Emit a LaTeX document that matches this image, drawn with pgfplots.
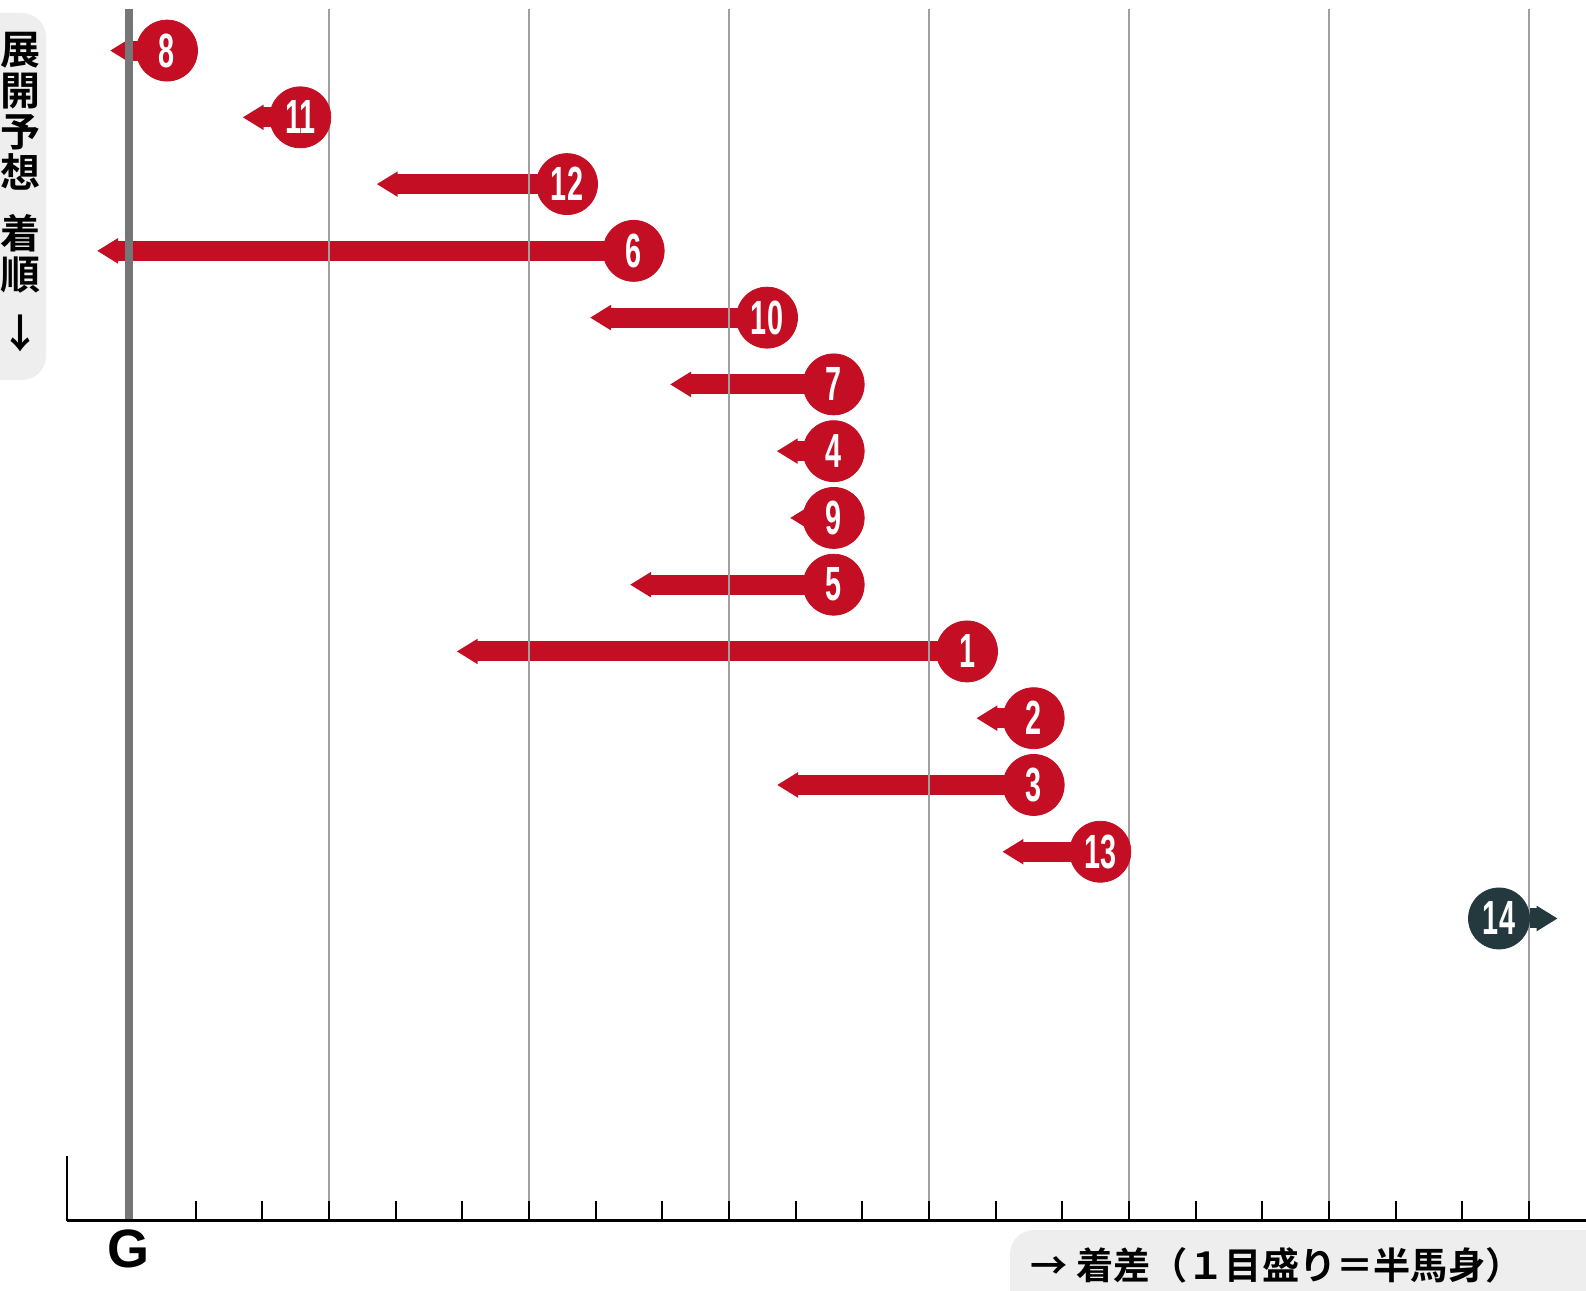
\documentclass[border=0pt]{standalone}
\usepackage{pgfplots}
\pgfplotsset{compat=1.18}
\usepackage{pgfplotstable}
\usetikzlibrary{arrows.meta}
\usepackage{fontspec}
\setmainfont{Liberation Sans}
\newfontfamily\numfont[FakeStretch=0.6]{Liberation Sans Bold}
\newfontfamily\jp{Noto Sans CJK JP Bold}
\definecolor{hred}{RGB}{196,14,36}
\definecolor{hdark}{RGB}{35,57,61}
\definecolor{gline}{RGB}{118,118,118}
\definecolor{gridc}{RGB}{160,160,160}
\definecolor{boxgray}{RGB}{238,238,238}

\pgfplotstableread{
row cx label
1 0.57 8
2 2.57 11
3 6.57 12
4 7.57 6
5 9.57 10
6 10.57 7
7 10.57 4
8 10.57 9
9 10.57 5
10 12.57 1
11 13.57 2
12 13.57 3
13 14.57 13
}\redhorses
\pgfplotstableread{
row cx label
14 20.55 14
}\darkhorse

\begin{document}
\begin{tikzpicture}
\begin{axis}[
  width=793pt, height=645.5pt, scale only axis,
  xmin=-1.935, xmax=21.855, ymin=0.2424, ymax=19.58, y dir=reverse,
  hide axis, clip=false,
  arr/.style={line width=10pt, -{Triangle[length=10.5pt,width=12pt]}},
  numlab/.style={only marks, mark=*, mark size=15.25pt,
    point meta=explicit symbolic, nodes near coords,
    nodes near coords align={center},
    every node near coord/.style={text=white, inner sep=0pt, anchor=center,
      font=\numfont\fontsize{24}{24}\selectfont}},
]
% arrows (start at the circle, tip at the arrow end)
\addplot[hred, arr] coordinates {(0.57,1) (-0.285,1)};
\addplot[hred, arr] coordinates {(2.57,2) (1.705,2)};
\addplot[hred, arr] coordinates {(6.57,3) (3.715,3)};
\addplot[hred, arr] coordinates {(7.57,4) (-0.48,4)};
\addplot[hred, arr] coordinates {(9.57,5) (6.915,5)};
\addplot[hred, arr] coordinates {(10.57,6) (8.115,6)};
\addplot[hred, arr] coordinates {(10.57,7) (9.715,7)};
\addplot[hred, arr] coordinates {(10.57,8) (9.915,8)};
\addplot[hred, arr] coordinates {(10.57,9) (7.515,9)};
\addplot[hred, arr] coordinates {(12.57,10) (4.915,10)};
\addplot[hred, arr] coordinates {(13.57,11) (12.71,11)};
\addplot[hred, arr] coordinates {(13.57,12) (9.72,12)};
\addplot[hred, arr] coordinates {(14.57,13) (13.1,13)};
\addplot[hdark, arr] coordinates {(20.55,14) (21.43,14)};
% grid lines, G line, base axis, ticks
\pgfplotsinvokeforeach{3,6,9,12,15,18,21}{
  \draw[gridc, line width=0.8pt] (axis cs:#1,0.377) -- (axis cs:#1,18.527);
}
\pgfplotsinvokeforeach{1,2,...,21}{
  \draw[black, line width=1pt] (axis cs:#1,18.228) -- (axis cs:#1,18.527);
}
\draw[gline, line width=4pt] (axis cs:0,0.377) -- (axis cs:0,18.527);
\draw[black, line width=1.3pt] (axis cs:-0.93,18.527) -- (axis cs:21.855,18.527);
\draw[black, line width=1pt] (axis cs:-0.93,17.558) -- (axis cs:-0.93,18.537);
% circles with numbers
\addplot[hred, numlab] table[x=cx, y=row, meta=label] {\redhorses};
\addplot[hdark, numlab] table[x=cx, y=row, meta=label] {\darkhorse};
\end{axis}
\begin{scope}[shift={(current axis.north west)}, x=0.5pt, y=-0.5pt]
  \fill[boxgray, rounded corners=12pt] (-60,13) rectangle (46,380);
  \node[anchor=north, font=\jp\fontsize{20pt}{20.5pt}\selectfont, align=center, inner sep=0pt]
    at (21,32) {展\\開\\予\\想\\[10pt]着\\順\\[9pt]↓};
  \fill[boxgray, rounded corners=12pt] (1010,1230) rectangle (1660,1360);
  \node[anchor=west, font=\jp\fontsize{18.6pt}{20pt}\selectfont, inner sep=0pt]
    at (1030,1265) {→ 着差（１目盛り＝半馬身）};
  \node[font=\bfseries\fontsize{27pt}{27pt}\selectfont, inner sep=0pt] at (129,1249) {G};
\end{scope}
\pgfresetboundingbox
\useasboundingbox (current axis.south west) rectangle (current axis.north east);
\end{tikzpicture}
\end{document}
